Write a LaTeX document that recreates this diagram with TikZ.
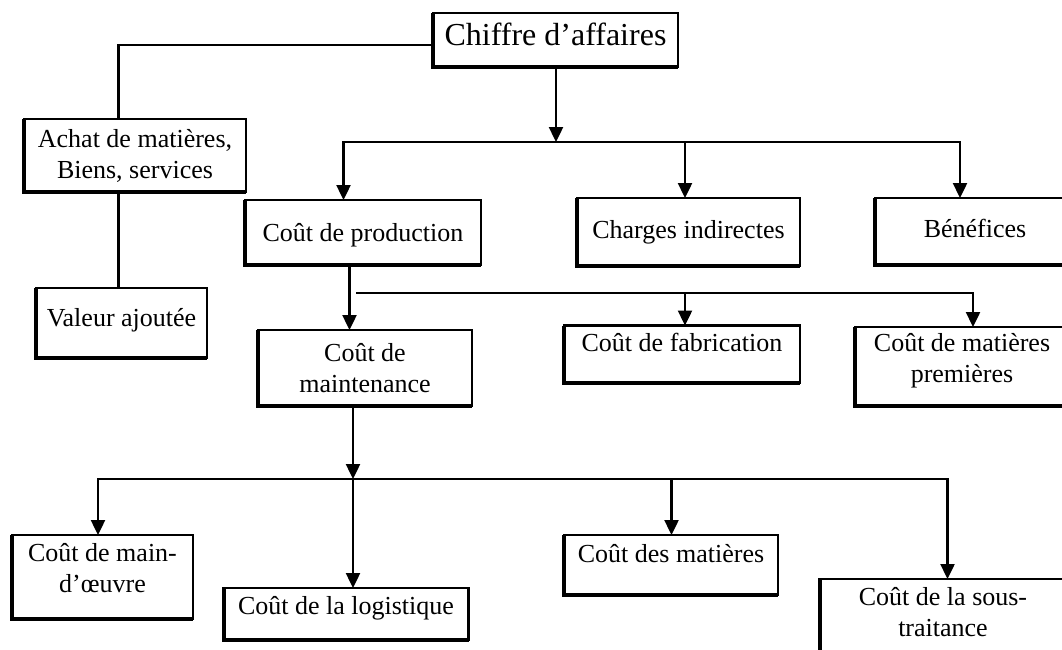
\documentclass[tikz,border=0pt]{standalone}
\usepackage{fontspec}
\setmainfont{Liberation Serif}
\usetikzlibrary{arrows.meta}

\begin{document}
\begin{tikzpicture}[x=1pt, y=-1pt,
        box/.style={draw, line width=2.8pt, align=center, inner sep=0pt, outer sep=0pt, font=\fontsize{26}{31}\selectfont},
        heavy/.style={line width=4pt},
        link/.style={line width=2.4pt, line cap=rect},
        arr/.style={line width=2.4pt, line cap=rect, -{Triangle[length=15pt, width=14pt]}}]
        \useasboundingbox (0,0) rectangle (1062,649);
        \clip (0,0) rectangle (1062,649);
        \node[box, minimum width=245pt, minimum height=54pt, font=\fontsize{32}{36}\selectfont, text height=22pt, text depth=10.9pt] (ca) at (555.5,40) {Chiffre d’affaires};
        \node[box, minimum width=222pt, minimum height=73pt] (achat) at (135,155.5) {Achat de matières,\\Biens, services};
        \node[box, minimum width=171pt, minimum height=70pt, text height=18pt, text depth=10.8pt] (valeur) at (121.5,323) {Valeur ajoutée};
        \node[box, minimum width=236pt, minimum height=65pt, text height=18pt, text depth=0.8pt] (prod) at (363,232.5) {Coût de production};
        \node[box, minimum width=223pt, minimum height=68pt, text height=18pt, text depth=5.8pt] (charges) at (688.5,232) {Charges indirectes};
        \node[box, minimum width=200pt, minimum height=67pt, text height=18pt, text depth=5.8pt] (benef) at (975,231.5) {Bénéfices};
        \node[box, minimum width=214pt, minimum height=76pt] (maint) at (365,368) {Coût de\\maintenance};
        \node[box, minimum width=236pt, minimum height=57pt, text height=18pt, text depth=22.8pt] (fab) at (682,354) {Coût de fabrication};
        \node[box, minimum width=214pt, minimum height=79pt, text height=50pt, text depth=17.4pt] (prem) at (962,366.5) {Coût de matières\\premières};
        \node[box, minimum width=181pt, minimum height=84pt, text height=50pt, text depth=18.4pt] (mo) at (102.5,577) {Coût de main-\\d’œuvre};
        \node[box, minimum width=245pt, minimum height=52pt, text height=18pt, text depth=16.8pt] (logis) at (346,614) {Coût de la logistique};
        \node[box, minimum width=214pt, minimum height=60pt, text height=18pt, text depth=22.8pt] (mat) at (671,565) {Coût des matières};
        \node[box, minimum width=247pt, minimum height=86pt, text height=50pt, text depth=21.4pt] (sous) at (943,622) {Coût de la sous-\\traitance};
        \foreach \n in {ca,achat,valeur,prod,charges,benef,maint,fab,prem,mo,logis,mat,sous}
            \draw[heavy] (\n.north west) |- (\n.south east);

        \coordinate (j0) at (118.5,45);
        \draw[link] (ca.west |- j0) -| (achat.north -| j0);
        \draw[link] (achat.south -| j0) -- (valeur.north -| j0);

        \coordinate (b1) at (556,142);
        \coordinate (b1l) at (343.5,142);
        \coordinate (b1c) at (685,142);
        \coordinate (b1r) at (960,142);
        \draw[arr] (ca.south -| b1) -- (b1);
        \draw[link] (b1l) -- (b1r);
        \draw[arr] (b1l) -- (b1l |- prod.north);
        \draw[arr] (b1c) -- (b1c |- charges.north);
        \draw[arr] (b1r) -- (b1r |- benef.north);

        \coordinate (p1) at (349.5,265);
        \draw[arr] (prod.south -| p1) -- (maint.north -| p1);
        \coordinate (b2l) at (357,293);
        \coordinate (b2c) at (685,293);
        \coordinate (b2r) at (973,293);
        \draw[link] (b2l) -- (b2r);
        \draw[arr] (b2c) -- (b2c |- fab.north);
        \draw[arr] (b2r) -- (b2r |- prem.north);

        \coordinate (b3) at (353,479);
        \coordinate (b3l) at (98,479);
        \coordinate (b3c) at (671.5,479);
        \coordinate (b3r) at (947.5,479);
        \draw[arr] (maint.south -| b3) -- (b3);
        \draw[link] (b3l) -- (b3r);
        \draw[arr] (b3l) -- (b3l |- mo.north);
        \draw[arr] (b3) -- (b3 |- logis.north);
        \draw[arr] (b3c) -- (b3c |- mat.north);
        \draw[arr] (b3r) -- (b3r |- sous.north);
    \end{tikzpicture}
\end{document}
